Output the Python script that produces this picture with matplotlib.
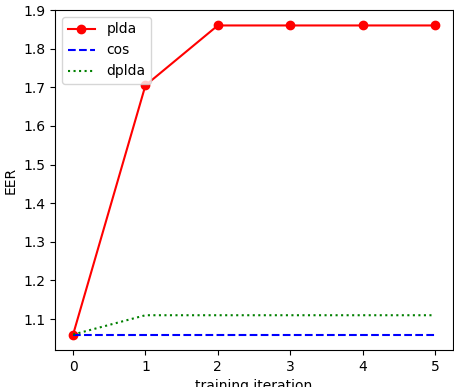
import matplotlib
matplotlib.use("Agg")
import matplotlib.pyplot as plt

iterations = [0, 1, 2, 3, 4, 5]
plda = [1.06, 1.705, 1.86, 1.86, 1.86, 1.86]
cos = [1.06, 1.06, 1.06, 1.06, 1.06, 1.06]
dplda = [1.06, 1.11, 1.11, 1.11, 1.11, 1.11]

fig = plt.figure(figsize=(4.54, 3.87), dpi=100)
ax = fig.add_axes([55/454, 37/387, 398/454, 340/387])

ax.plot(iterations, plda, 'r-o', label='plda')
ax.plot(iterations, cos, 'b--', label='cos')
ax.plot(iterations, dplda, 'g:', label='dplda')

ax.set_xlabel("training iteration")
ax.set_ylabel("EER")
ax.legend(loc='upper left')

fig.savefig("out.png", dpi=100)
